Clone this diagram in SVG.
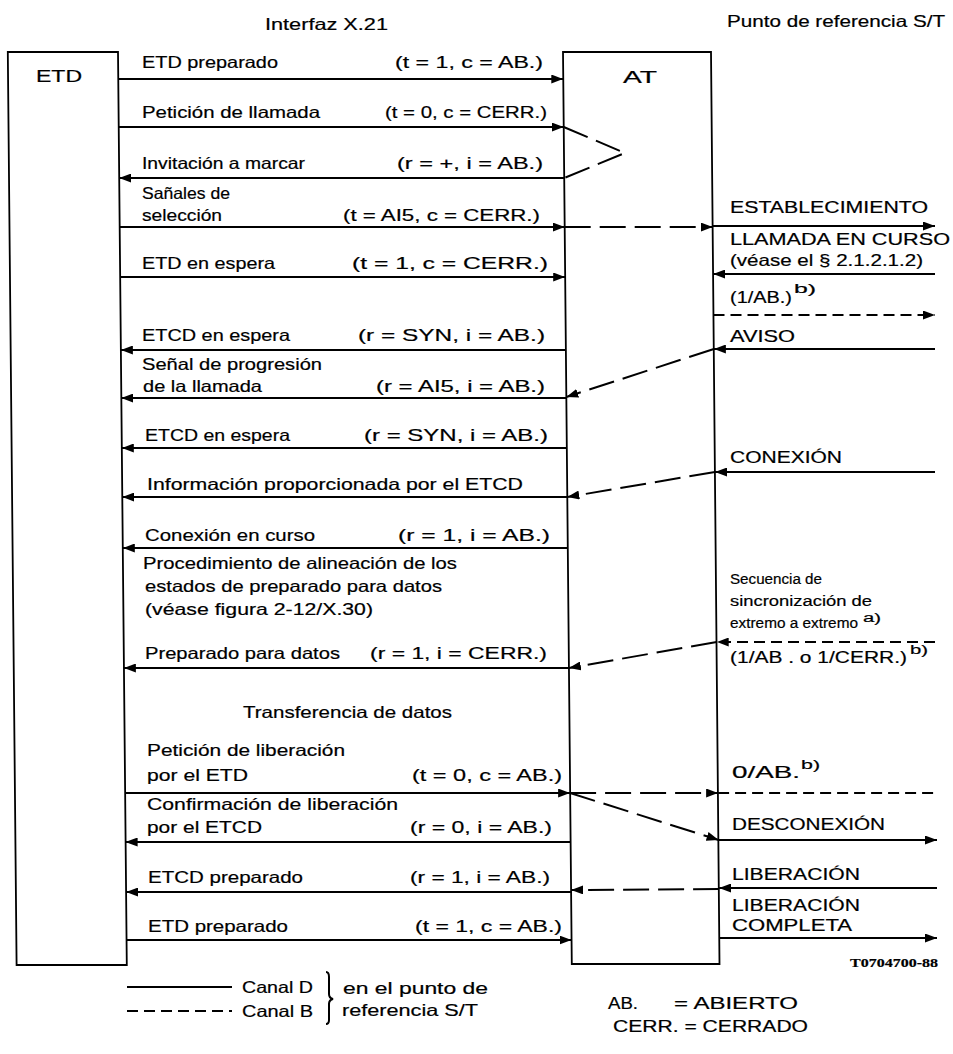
<svg xmlns="http://www.w3.org/2000/svg" width="953" height="1054" viewBox="0 0 953 1054">
<defs>
<style>
text{font-family:"Liberation Sans",Arial,sans-serif;font-size:16.5px;fill:#000;stroke:#000;stroke-width:0.2}
.p{font-size:17px}
.s{font-size:15.4px}
.sup{font-size:12px}
.lg{font-size:17px}
.code{font-family:"Liberation Serif","Times New Roman",serif;font-size:13px;font-weight:bold}
.box{fill:none;stroke:#000;stroke-width:1.8}
.ln{fill:none;stroke:#000;stroke-width:2}
.dl{fill:none;stroke:#000;stroke-width:2;stroke-dasharray:26 9}
.ds{fill:none;stroke:#000;stroke-width:2;stroke-dasharray:11 6}
</style>
<marker id="ah" viewBox="0 0 12 9" refX="12" refY="4.5" markerWidth="12" markerHeight="9" markerUnits="userSpaceOnUse" orient="auto"><path d="M0,0 L12,4.5 L0,9 z" fill="#000"/></marker>
</defs>
<rect width="953" height="1054" fill="#fff"/>

<g id="headers">
<text x="265" y="30" textLength="123" lengthAdjust="spacingAndGlyphs">Interfaz X.21</text>
<text x="727" y="27" textLength="218" lengthAdjust="spacingAndGlyphs">Punto de referencia S/T</text>
</g>

<g id="ETD">
<polygon class="box" points="7.8,52 118,52 126.8,965 16.6,965"/>
<text x="36" y="82" textLength="46" lengthAdjust="spacingAndGlyphs">ETD</text>
</g>

<g id="AT">
<polygon class="box" points="563,52 711,52 719.5,964 571.8,964"/>
<text x="623" y="83" textLength="34" lengthAdjust="spacingAndGlyphs">AT</text>
</g>

<g id="connectors">
<line class="ln" x1="118.3" y1="79" x2="563.3" y2="79" marker-end="url(#ah)"/>
<line class="ln" x1="118.7" y1="127" x2="563.7" y2="127" marker-end="url(#ah)"/>
<line class="ln" x1="564.2" y1="178" x2="119.2" y2="178" marker-end="url(#ah)"/>
<line class="ln" x1="119.7" y1="227" x2="564.7" y2="227" marker-end="url(#ah)"/>
<line class="ln" x1="120.1" y1="277" x2="565.2" y2="277" marker-end="url(#ah)"/>
<line class="ln" x1="565.9" y1="350" x2="120.9" y2="350" marker-end="url(#ah)"/>
<line class="ln" x1="566.3" y1="398" x2="121.3" y2="398" marker-end="url(#ah)"/>
<line class="ln" x1="566.8" y1="448" x2="121.8" y2="448" marker-end="url(#ah)"/>
<line class="ln" x1="567.3" y1="497" x2="122.3" y2="497" marker-end="url(#ah)"/>
<line class="ln" x1="567.8" y1="548" x2="122.8" y2="548" marker-end="url(#ah)"/>
<line class="ln" x1="568.9" y1="668" x2="123.9" y2="668" marker-end="url(#ah)"/>
<line class="ln" x1="125.1" y1="793" x2="570.1" y2="793" marker-end="url(#ah)"/>
<line class="ln" x1="570.6" y1="842" x2="125.6" y2="842" marker-end="url(#ah)"/>
<line class="ln" x1="571.1" y1="892" x2="126.1" y2="892" marker-end="url(#ah)"/>
<line class="ln" x1="126.5" y1="940" x2="571.5" y2="940" marker-end="url(#ah)"/>

<polyline class="dl" points="563.7,127 625,153 564.2,178"/>
<line class="dl" x1="564.7" y1="227" x2="712.7" y2="227" marker-end="url(#ah)"/>
<line class="dl" x1="713.9" y1="349" x2="566.3" y2="397" marker-end="url(#ah)"/>
<line class="dl" x1="715" y1="472" x2="567.3" y2="497" marker-end="url(#ah)"/>
<line class="dl" x1="716.7" y1="642" x2="568.9" y2="668" marker-end="url(#ah)"/>
<line class="dl" x1="570.1" y1="793" x2="718.1" y2="793" marker-end="url(#ah)"/>
<line class="dl" x1="570.1" y1="793" x2="718.6" y2="840" marker-end="url(#ah)"/>
<line class="dl" x1="719.1" y1="889" x2="571.1" y2="890" marker-end="url(#ah)"/>

<line class="ln" x1="712.7" y1="226" x2="935" y2="226" marker-end="url(#ah)"/>
<line class="ln" x1="935" y1="274" x2="713.2" y2="274" marker-end="url(#ah)"/>
<line class="ds" x1="713.5" y1="315" x2="935" y2="315" marker-end="url(#ah)"/>
<line class="ln" x1="935" y1="349" x2="713.9" y2="349" marker-end="url(#ah)"/>
<line class="ln" x1="935" y1="472" x2="715" y2="472" marker-end="url(#ah)"/>
<line class="ds" x1="935" y1="642" x2="716.7" y2="642" marker-end="url(#ah)"/>
<line class="ds" x1="718.1" y1="793" x2="935" y2="793"/>
<line class="ln" x1="718.6" y1="840" x2="937" y2="840" marker-end="url(#ah)"/>
<line class="ln" x1="937" y1="888" x2="719.1" y2="888" marker-end="url(#ah)"/>
<line class="ln" x1="719.5" y1="938" x2="937" y2="938" marker-end="url(#ah)"/>
</g>

<g id="left-labels">
<text x="142" y="68" textLength="136" lengthAdjust="spacingAndGlyphs">ETD preparado</text>
<text x="142" y="118" textLength="178" lengthAdjust="spacingAndGlyphs">Petición de llamada</text>
<text x="142" y="169" textLength="163" lengthAdjust="spacingAndGlyphs">Invitación a marcar</text>
<text x="142" y="199" textLength="88" lengthAdjust="spacingAndGlyphs">Sañales de</text>
<text x="142" y="221" textLength="80" lengthAdjust="spacingAndGlyphs">selección</text>
<text x="142" y="269" textLength="133" lengthAdjust="spacingAndGlyphs">ETD en espera</text>
<text x="142" y="341" textLength="148" lengthAdjust="spacingAndGlyphs">ETCD en espera</text>
<text x="142" y="370" textLength="180" lengthAdjust="spacingAndGlyphs">Señal de progresión</text>
<text x="143" y="392" textLength="119" lengthAdjust="spacingAndGlyphs">de la llamada</text>
<text x="145" y="441" textLength="145" lengthAdjust="spacingAndGlyphs">ETCD en espera</text>
<text x="147" y="490" textLength="376" lengthAdjust="spacingAndGlyphs">Información proporcionada por el ETCD</text>
<text x="145" y="541" textLength="170" lengthAdjust="spacingAndGlyphs">Conexión en curso</text>
<text x="143" y="569" textLength="314" lengthAdjust="spacingAndGlyphs">Procedimiento de alineación de los</text>
<text x="145" y="592" textLength="297" lengthAdjust="spacingAndGlyphs">estados de preparado para datos</text>
<text x="145" y="615" textLength="228" lengthAdjust="spacingAndGlyphs">(véase figura 2-12/X.30)</text>
<text x="145" y="659" textLength="195" lengthAdjust="spacingAndGlyphs">Preparado para datos</text>
<text x="243" y="718" textLength="209" lengthAdjust="spacingAndGlyphs">Transferencia de datos</text>
<text x="147" y="756" textLength="198" lengthAdjust="spacingAndGlyphs">Petición de liberación</text>
<text x="147" y="781" textLength="101" lengthAdjust="spacingAndGlyphs">por el ETD</text>
<text x="147" y="810" textLength="251" lengthAdjust="spacingAndGlyphs">Confirmación de liberación</text>
<text x="147" y="833" textLength="115" lengthAdjust="spacingAndGlyphs">por el ETCD</text>
<text x="148" y="883" textLength="155" lengthAdjust="spacingAndGlyphs">ETCD preparado</text>
<text x="148" y="932" textLength="140" lengthAdjust="spacingAndGlyphs">ETD preparado</text>
</g>

<g id="parameters" xml:space="preserve">
<text class="p" x="395" y="68" textLength="148" lengthAdjust="spacingAndGlyphs">(t  =  1,  c  =  AB.)</text>
<text class="p" x="385" y="118" textLength="162" lengthAdjust="spacingAndGlyphs">(t  =  0,  c  =  CERR.)</text>
<text class="p" x="397" y="169" textLength="146" lengthAdjust="spacingAndGlyphs">(r  =  +,  i  =  AB.)</text>
<text class="p" x="343" y="221" textLength="197" lengthAdjust="spacingAndGlyphs">(t  =  AI5,  c  =  CERR.)</text>
<text class="p" x="352" y="269" textLength="196" lengthAdjust="spacingAndGlyphs">(t  =  1,  c  =  CERR.)</text>
<text class="p" x="358" y="341" textLength="187" lengthAdjust="spacingAndGlyphs">(r  =  SYN,  i  =  AB.)</text>
<text class="p" x="376" y="392" textLength="169" lengthAdjust="spacingAndGlyphs">(r  =  AI5,  i  =  AB.)</text>
<text class="p" x="364" y="441" textLength="184" lengthAdjust="spacingAndGlyphs">(r  =  SYN,  i  =  AB.)</text>
<text class="p" x="398" y="541" textLength="152" lengthAdjust="spacingAndGlyphs">(r  =  1,  i  =  AB.)</text>
<text class="p" x="370" y="659" textLength="177" lengthAdjust="spacingAndGlyphs">(r  =  1,  i  =  CERR.)</text>
<text class="p" x="412" y="781" textLength="150" lengthAdjust="spacingAndGlyphs">(t  =  0,  c  =  AB.)</text>
<text class="p" x="410" y="833" textLength="142" lengthAdjust="spacingAndGlyphs">(r  =  0,  i  =  AB.)</text>
<text class="p" x="410" y="883" textLength="140" lengthAdjust="spacingAndGlyphs">(r  =  1,  i  =  AB.)</text>
<text class="p" x="415" y="932" textLength="147" lengthAdjust="spacingAndGlyphs">(t  =  1,  c  =  AB.)</text>
</g>

<g id="right-labels">
<text x="730" y="213" textLength="198" lengthAdjust="spacingAndGlyphs">ESTABLECIMIENTO</text>
<text x="730" y="245" textLength="220" lengthAdjust="spacingAndGlyphs">LLAMADA EN CURSO</text>
<text x="730" y="266" textLength="193" lengthAdjust="spacingAndGlyphs">(véase el § 2.1.2.1.2)</text>
<text x="730" y="303" textLength="62" lengthAdjust="spacingAndGlyphs">(1/AB.)</text>
<text class="sup" x="794" y="293" textLength="22" lengthAdjust="spacingAndGlyphs">b)</text>
<text x="730" y="342" textLength="65" lengthAdjust="spacingAndGlyphs">AVISO</text>
<text x="730" y="463" textLength="112" lengthAdjust="spacingAndGlyphs">CONEXIÓN</text>
<text class="s" x="730" y="584" textLength="92" lengthAdjust="spacingAndGlyphs">Secuencia de</text>
<text class="s" x="730" y="606" textLength="142" lengthAdjust="spacingAndGlyphs">sincronización de</text>
<text class="s" x="730" y="628" textLength="128" lengthAdjust="spacingAndGlyphs">extremo a extremo</text>
<text class="sup" x="863" y="622" textLength="18" lengthAdjust="spacingAndGlyphs">a)</text>
<text x="730" y="663" textLength="177" lengthAdjust="spacingAndGlyphs">(1/AB . o 1/CERR.)</text>
<text class="sup" x="910" y="654" textLength="18" lengthAdjust="spacingAndGlyphs">b)</text>
<text x="732" y="778" textLength="68" lengthAdjust="spacingAndGlyphs">0/AB.</text>
<text class="sup" x="801" y="769" textLength="19" lengthAdjust="spacingAndGlyphs">b)</text>
<text x="732" y="830" textLength="153" lengthAdjust="spacingAndGlyphs">DESCONEXIÓN</text>
<text x="732" y="880" textLength="128" lengthAdjust="spacingAndGlyphs">LIBERACIÓN</text>
<text x="732" y="911" textLength="128" lengthAdjust="spacingAndGlyphs">LIBERACIÓN</text>
<text x="732" y="931" textLength="120" lengthAdjust="spacingAndGlyphs">COMPLETA</text>
<text class="code" x="850" y="967" textLength="88" lengthAdjust="spacingAndGlyphs">T0704700-88</text>
</g>

<g id="legend">
<line class="ln" x1="127" y1="987" x2="232" y2="987"/>
<line class="ds" x1="127" y1="1011" x2="232" y2="1011"/>
<text x="242" y="993" textLength="71" lengthAdjust="spacingAndGlyphs">Canal D</text>
<text x="242" y="1017" textLength="71" lengthAdjust="spacingAndGlyphs">Canal B</text>
<path class="ln" d="M326,972 Q329,972 329,977 L329,994 Q329,998 333,999 Q329,1000 329,1004 L329,1020 Q329,1024 326,1024"/>
<text x="343" y="994" textLength="145" lengthAdjust="spacingAndGlyphs">en el punto de</text>
<text x="342" y="1016" textLength="136" lengthAdjust="spacingAndGlyphs">referencia S/T</text>
<text class="lg" x="608" y="1009" textLength="30" lengthAdjust="spacingAndGlyphs">AB.</text>
<text class="lg" x="674" y="1009" textLength="124" lengthAdjust="spacingAndGlyphs">= ABIERTO</text>
<text class="lg" x="613" y="1032" textLength="195" lengthAdjust="spacingAndGlyphs">CERR. = CERRADO</text>
</g>
</svg>
